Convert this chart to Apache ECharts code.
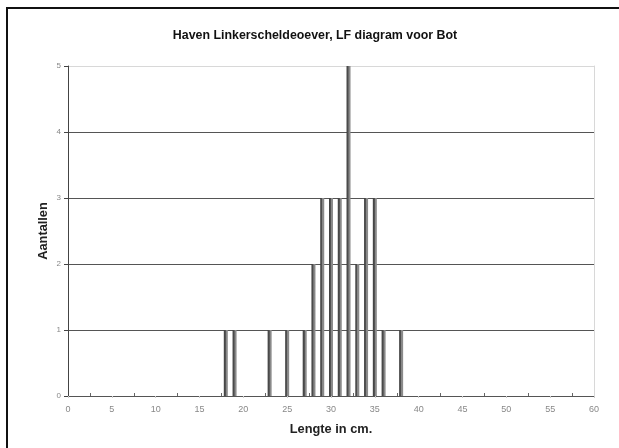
<!DOCTYPE html>
<html>
<head>
<meta charset="utf-8">
<script src="https://cdn.jsdelivr.net/npm/echarts@6/dist/echarts.min.js"></script>
<style>html,body{margin:0;padding:0;background:#fff;}#c{width:619px;height:448px;}</style>
</head>
<body>
<div id="c"></div>
<script>
var lengths = [18, 19, 23, 25, 27, 28, 29, 30, 31, 32, 33, 34, 35, 36, 38];
var counts  = [1, 1, 1, 1, 1, 2, 3, 3, 3, 5, 2, 3, 3, 1, 1];
var titleText = 'Haven Linkerscheldeoever, LF diagram voor Bot';
var xName = 'Lengte in cm.';
var yName = 'Aantallen';

var data = lengths.map(function (l, i) { return [l, counts[i]]; });
var chart = echarts.init(document.getElementById('c'));
chart.setOption({
  animation: false,
  backgroundColor: '#fff',
  title: {
    text: titleText, left: 310, top: 25, textAlign: 'center',
    textStyle: { fontFamily: 'Liberation Sans, Arial', fontSize: 12.4, fontWeight: 'bold', color: '#111' }
  },
  graphic: [{
    type: 'rect', silent: true,
    shape: { x: 7, y: 8, width: 800, height: 600 },
    style: { fill: 'none', stroke: '#111', lineWidth: 2 }
  }],
  grid: { left: 68, right: 25, top: 66, bottom: 52, containLabel: false },
  xAxis: {
    type: 'value', min: 0, max: 60, interval: 5,
    name: xName, nameLocation: 'middle', nameGap: 27,
    nameTextStyle: { fontFamily: 'Liberation Sans, Arial', fontSize: 12.8, fontWeight: 'bold', color: '#222' },
    axisLine: { show: true, lineStyle: { color: '#555', width: 1 } },
    axisTick: { show: true, length: 2, lineStyle: { color: '#ccc' } },
    minorTick: { show: true, splitNumber: 2, length: -3, lineStyle: { color: '#666' } },
    axisLabel: { fontFamily: 'Liberation Sans, Arial', fontSize: 9, color: '#888', margin: 9 },
    splitLine: { show: false }
  },
  yAxis: [{
    type: 'value', min: 0, max: 5, interval: 1,
    name: yName, nameLocation: 'middle', nameGap: 18, nameMoveOverlap: false,
    nameTextStyle: { fontFamily: 'Liberation Sans, Arial', fontSize: 12.8, fontWeight: 'bold', color: '#222' },
    axisLine: { show: true, lineStyle: { color: '#444', width: 1 } },
    axisTick: { show: true, length: 4, lineStyle: { color: '#444' } },
    axisLabel: { fontFamily: 'Liberation Sans, Arial', fontSize: 8, color: '#888', margin: 7 },
    splitLine: { show: true, lineStyle: { color: ['#555', '#555', '#555', '#555', '#555', '#d8d8d8'], width: 1 } }
  }, {
    type: 'value', min: 0, max: 5, interval: 1, position: 'right',
    axisLine: { show: true, lineStyle: { color: '#d8d8d8', width: 1 } },
    axisTick: { show: false }, axisLabel: { show: false }, splitLine: { show: false }
  }],
  series: [{
    type: 'bar', data: data, barWidth: 4, yAxisIndex: 0,
    itemStyle: {
      color: new echarts.graphic.LinearGradient(0, 0, 1, 0, [
        { offset: 0, color: '#3e3e3e' },
        { offset: 0.45, color: '#555' },
        { offset: 0.55, color: '#888' },
        { offset: 1, color: '#8c8c8c' }
      ])
    }
  }]
});
</script>
</body>
</html>
